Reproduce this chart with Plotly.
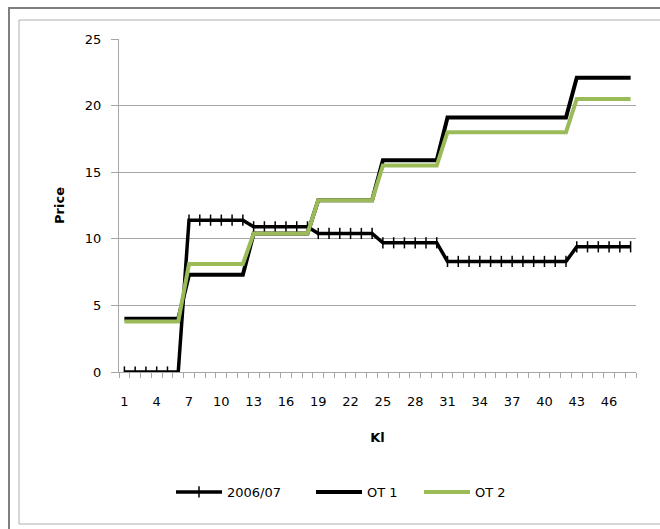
import plotly.graph_objects as go

# Categories (Kl) and price series
kl = list(range(1, 49))
tick_labels = [1, 4, 7, 10, 13, 16, 19, 22, 25, 28, 31, 34, 37, 40, 43, 46]

price_2006_07 = [0, 0, 0, 0, 0, 0,
                 11.4, 11.4, 11.4, 11.4, 11.4, 11.4,
                 10.9, 10.9, 10.9, 10.9, 10.9, 10.9,
                 10.4, 10.4, 10.4, 10.4, 10.4, 10.4,
                 9.7, 9.7, 9.7, 9.7, 9.7, 9.7,
                 8.3, 8.3, 8.3, 8.3, 8.3, 8.3, 8.3, 8.3, 8.3, 8.3, 8.3, 8.3,
                 9.4, 9.4, 9.4, 9.4, 9.4, 9.4]

price_ot1 = [4.0, 4.0, 4.0, 4.0, 4.0, 4.0,
             7.3, 7.3, 7.3, 7.3, 7.3, 7.3,
             10.4, 10.4, 10.4, 10.4, 10.4, 10.4,
             12.9, 12.9, 12.9, 12.9, 12.9, 12.9,
             15.9, 15.9, 15.9, 15.9, 15.9, 15.9,
             19.1, 19.1, 19.1, 19.1, 19.1, 19.1, 19.1, 19.1, 19.1, 19.1, 19.1, 19.1,
             22.1, 22.1, 22.1, 22.1, 22.1, 22.1]

price_ot2 = [3.8, 3.8, 3.8, 3.8, 3.8, 3.8,
             8.1, 8.1, 8.1, 8.1, 8.1, 8.1,
             10.4, 10.4, 10.4, 10.4, 10.4, 10.4,
             12.9, 12.9, 12.9, 12.9, 12.9, 12.9,
             15.5, 15.5, 15.5, 15.5, 15.5, 15.5,
             18.0, 18.0, 18.0, 18.0, 18.0, 18.0, 18.0, 18.0, 18.0, 18.0, 18.0, 18.0,
             20.5, 20.5, 20.5, 20.5, 20.5, 20.5]

FONT = "DejaVu Sans"
GRID = "#a6a6a6"

fig = go.Figure()
fig.add_trace(go.Scatter(
    x=kl, y=price_2006_07, name="2006/07", mode="lines+markers",
    line=dict(color="black", width=3.5),
    marker=dict(symbol="line-ns", size=8, line=dict(color="black", width=1.5)),
    legend="legend",
))
fig.add_trace(go.Scatter(
    x=kl, y=price_ot1, name="OT 1", mode="lines",
    line=dict(color="black", width=4),
    legend="legend2",
))
fig.add_trace(go.Scatter(
    x=kl, y=price_ot2, name="OT 2", mode="lines",
    line=dict(color="#9bbb59", width=4),
    legend="legend3",
))

# Plot area spans x 119..636 px and y 39..372 px
L, R, T, B = 119, 636, 39, 372
W, H = 660, 529


def px(xp):
    return (xp - L) / (R - L)


def py(yp):
    return (B - yp) / (B - T)


shapes = [
    # outer frame
    dict(type="rect", xref="paper", yref="paper",
         x0=px(9), x1=px(700), y0=py(560), y1=py(8),
         line=dict(color="#7f7f7f", width=2), layer="below"),
    # inner frame
    dict(type="rect", xref="paper", yref="paper",
         x0=px(19), x1=px(700), y0=py(524), y1=py(20),
         line=dict(color="#b0b0b0", width=1), layer="below"),
]


def legend_at(x_left):
    return dict(orientation="h", x=px(x_left), xanchor="left",
                y=py(492), yanchor="middle",
                font=dict(family=FONT, size=13, color="black"),
                itemwidth=46, bgcolor="rgba(0,0,0,0)")


fig.update_layout(
    width=W, height=H,
    margin=dict(l=L, r=W - R, t=T, b=H - B, autoexpand=False),
    paper_bgcolor="white", plot_bgcolor="white",
    font=dict(family=FONT, size=13, color="black"),
    showlegend=True,
    legend=legend_at(171),
    legend2=legend_at(311),
    legend3=legend_at(419),
    shapes=shapes,
    xaxis=dict(
        range=[0.5, 48.5], tickmode="array", tickvals=tick_labels,
        ticktext=[str(v) for v in tick_labels],
        ticks="", showgrid=False, zeroline=False,
        showline=True, linecolor=GRID, linewidth=1,
        ticklabelstandoff=17,
        minor=dict(tickmode="linear", tick0=0.5, dtick=1, ticks="outside",
                   ticklen=5, tickcolor=GRID, tickwidth=1, showgrid=False),
        title=dict(text="<b>Kl</b>", standoff=25,
                   font=dict(family=FONT, size=13)),
        tickfont=dict(family=FONT, size=13),
    ),
    yaxis=dict(
        range=[0, 25], tickvals=[0, 5, 10, 15, 20, 25],
        ticks="outside", ticklen=7, tickcolor=GRID,
        showgrid=True, gridcolor=GRID, gridwidth=1, zeroline=False,
        showline=True, linecolor=GRID, linewidth=1,
        ticklabelstandoff=7,
        title=dict(text="<b>Price</b>", standoff=17,
                   font=dict(family=FONT, size=13)),
        tickfont=dict(family=FONT, size=13),
    ),
)

fig.write_html("out.html")
